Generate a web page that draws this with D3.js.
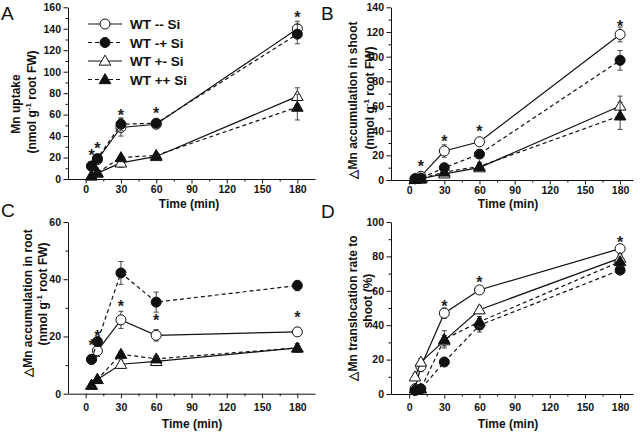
<!DOCTYPE html>
<html><head><meta charset="utf-8">
<script src="https://cdn.jsdelivr.net/npm/d3@7"></script>
<style>
body{margin:0;background:#fff}
text{font-family:"Liberation Sans",Arial,Helvetica,sans-serif}
</style>
</head><body>
<svg id="chart" width="640" height="432"></svg>
<script>
// ---------- DATA ----------
const times = [5, 10, 30, 60, 180];
const seriesNames = ["WT -- Si", "WT -+ Si", "WT +- Si", "WT ++ Si"];
const xTicks = [0, 30, 60, 90, 120, 150, 180];

// Panel A: Mn uptake (nmol g-1 root FW)
const uptakeMean = [[12, 18, 48, 51, 140], [12, 19, 51, 52, 135], [3, 5.5, 15, 21, 77], [3, 6, 20, 22, 67]];
const uptakeErr  = [[2, 2, 8, 2, 7], [2, 2, 6, 3, 9], [1, 1, 4, 2, 8], [1, 1, 2, 2, 12]];
const uptakeStarT = [5, 10, 30, 60, 180];
const uptakeStarY = [25, 31.5, 62, 64, 153.5];
const uptakeTicks = [0, 20, 40, 60, 80, 100, 120, 140, 160];

// Panel B: delta Mn accumulation in shoot
const shootMean = [[1, 3, 23.5, 31, 118], [1, 1.5, 10, 21, 97], [0.5, 1, 5, 10, 60], [0.5, 1, 6.5, 11, 52]];
const shootErr  = [[1, 1, 5, 2, 6], [0.5, 0.5, 2, 1.5, 8], [0.5, 0.5, 2, 1.5, 8], [0.5, 0.5, 1.5, 3, 11]];
const shootStarT = [10, 30, 60, 180];
const shootStarY = [13.5, 34, 42, 127.5];
const shootTicks = [0, 20, 40, 60, 80, 100, 120, 140];

// Panel C: delta Mn accumulation in root
const rootMean = [[12, 15, 25.8, 20.4, 21.6], [12, 18.2, 42.2, 32, 37.8], [3, 5, 10.3, 11.3, 16], [3, 5, 13.8, 12.2, 16]];
const rootErr  = [[1, 2, 3, 2, 1.5], [1, 1.5, 4, 3.5, 1.8], [0.5, 0.8, 1.5, 1.5, 1.5], [0.5, 0.8, 1, 1, 1]];
const rootStarT = [5, 10, 30, 60, 180];
const rootStarY = [18, 21.3, 31.8, 26.8, 27.7];
const rootTicks = [0, 20, 40, 60];

// Panel D: delta Mn translocation rate to shoot (%)
const transMean = [[3, 16, 47, 60.5, 84.5], [2, 3, 18.6, 40, 72], [10, 18.6, 31, 49, 79], [3, 3, 31.8, 42, 77]];
const transErr  = [[2, 3, 3, 1.5, 2], [1, 1, 1.5, 4, 2], [2, 2, 3, 2, 2], [2, 1.5, 5, 3, 2.5]];
const transStarT = [30, 60, 180];
const transStarY = [53, 66.7, 90.3];
const transTicks = [0, 20, 40, 60, 80, 100];

// ---------- LAYOUT / STYLE ----------
const panels = [
  {letter: "A", lx: 1, ly: 20, xd: [-15, 195], xr: [68, 315], yd: [0, 160], yr: [179, 7.3],
   mean: uptakeMean, err: uptakeErr, st: uptakeStarT, sy: uptakeStarY, ticks: uptakeTicks, minorStep: 10,
   pad: 2, titleY: 207.5, titleX: 189,
   ylab: [{t: "Mn uptake", x: 20, y: 104}, {t: "(nmol g|-1| root FW)", x: 36, y: 102}]},
  {letter: "B", lx: 321, ly: 20, xd: [-15.5, 191], xr: [391, 633], yd: [0, 140], yr: [180, 7.3],
   mean: shootMean, err: shootErr, st: shootStarT, sy: shootStarY, ticks: shootTicks, minorStep: 10,
   pad: 2, titleY: 208, titleX: 508,
   ylab: [{t: "\u25B3Mn accumulation in shoot", x: 357, y: 100}, {t: "(nmol g|-1| root FW)", x: 374, y: 98}]},
  {letter: "C", lx: 1, ly: 217, xd: [-15, 195], xr: [68, 315], yd: [0, 60], yr: [393.7, 222],
   mean: rootMean, err: rootErr, st: rootStarT, sy: rootStarY, ticks: rootTicks, minorStep: 10,
   pad: 5, titleY: 428, titleX: 192,
   ylab: [{t: "\u25B3Mn accumulation in root", x: 32, y: 303}, {t: "(nmol g|-1| root FW)", x: 47, y: 294}]},
  {letter: "D", lx: 321, ly: 218, xd: [-15.5, 191], xr: [391, 633], yd: [0, 100], yr: [394, 222],
   mean: transMean, err: transErr, st: transStarT, sy: transStarY, ticks: transTicks, minorStep: 10,
   pad: 5, titleY: 428, titleX: 508,
   ylab: [{t: "\u25B3Mn translocation rate to", x: 357, y: 308}, {t: "shoot  (%)", x: 372, y: 301}]}
];
const filled = [false, true, false, true];
const isTri = [false, false, true, true];
const dashed = [false, true, false, true];
const ink = "#111";

const svg = d3.select("#chart");

function drawMarker(g, i, cx, cy) {
  if (isTri[i]) {
    g.append("path").attr("d", d3.symbol(d3.symbolTriangle, 58)())
      .attr("transform", `translate(${cx},${cy + 0.8})`)
      .attr("fill", filled[i] ? ink : "#fff").attr("stroke", ink).attr("stroke-width", 1);
  } else {
    g.append("circle").attr("cx", cx).attr("cy", cy).attr("r", 5)
      .attr("fill", filled[i] ? ink : "#fff").attr("stroke", ink).attr("stroke-width", 1);
  }
}

function labelWithSup(sel, str) {
  const parts = str.split("|");
  sel.append("tspan").text(parts[0]);
  if (parts.length > 1) {
    sel.append("tspan").text(parts[1]).attr("font-size", 8).attr("dy", -5);
    sel.append("tspan").text(parts[2]).attr("dy", 5);
  }
}

panels.forEach(p => {
  const x = d3.scaleLinear().domain(p.xd).range(p.xr);
  const y = d3.scaleLinear().domain(p.yd).range(p.yr);
  const g = svg.append("g");
  const y0 = y(0), xL = p.xr[0];

  // minor ticks
  const xMinor = d3.range(15, 181, 30);
  const yMinor = d3.range(p.minorStep, p.yd[1], p.minorStep * 2);
  g.append("g").attr("transform", `translate(0,${y0})`)
    .call(d3.axisBottom(x).tickValues(xMinor).tickSize(2.5).tickFormat(""))
    .call(a => a.select(".domain").remove());
  g.append("g").attr("transform", `translate(${xL},0)`)
    .call(d3.axisLeft(y).tickValues(yMinor).tickSize(2.5).tickFormat(""))
    .call(a => a.select(".domain").remove());

  // major axes
  const xa = g.append("g").attr("transform", `translate(0,${y0})`)
    .call(d3.axisBottom(x).tickValues(xTicks).tickSize(4.5).tickSizeOuter(0).tickPadding(p.pad));
  const ya = g.append("g").attr("transform", `translate(${xL},0)`)
    .call(d3.axisLeft(y).tickValues(p.ticks).tickSize(4.5).tickSizeOuter(0).tickPadding(2.5));
  g.selectAll(".tick line, .domain").attr("stroke", ink).attr("stroke-width", 1);
  [xa, ya].forEach(a => a.selectAll("text")
    .attr("font-size", 10.5).attr("font-weight", "bold").attr("fill", ink)
    .attr("font-family", '"Liberation Sans",Arial,sans-serif'));

  // titles
  g.append("text").attr("x", p.titleX).attr("y", p.titleY).attr("text-anchor", "middle")
    .attr("font-size", 12).attr("font-weight", "bold").attr("fill", ink).text("Time (min)");
  p.ylab.forEach(l => {
    const t = g.append("text").attr("transform", `translate(${l.x},${l.y}) rotate(-90)`)
      .attr("text-anchor", "middle").attr("font-size", 12).attr("font-weight", "bold").attr("fill", ink);
    labelWithSup(t, l.t);
  });
  svg.append("text").attr("x", p.lx).attr("y", p.ly).attr("font-size", 19).attr("fill", ink).text(p.letter);

  // series
  const line = d3.line().x(d => x(d[0])).y(d => y(d[1]));
  p.mean.forEach((vals, i) => {
    const pts = times.map((t, k) => [t, vals[k], p.err[i][k]]);
    g.append("path").attr("d", line(pts)).attr("fill", "none").attr("stroke", ink)
      .attr("stroke-width", 1.2).attr("stroke-dasharray", dashed[i] ? "4,3" : null);
    pts.forEach(d => {
      const cx = x(d[0]), top = y(d[1] + d[2]), bot = y(Math.max(0, d[1] - d[2]));
      g.append("line").attr("x1", cx).attr("x2", cx).attr("y1", top).attr("y2", bot).attr("stroke", "#444");
      [top, bot].forEach(yy => g.append("line").attr("x1", cx - 2.5).attr("x2", cx + 2.5)
        .attr("y1", yy).attr("y2", yy).attr("stroke", "#444"));
    });
    pts.forEach(d => drawMarker(g, i, x(d[0]), y(d[1])));
  });

  // significance stars
  p.st.forEach((t, k) => {
    g.append("text").attr("x", x(t)).attr("y", y(p.sy[k]) + 9).attr("text-anchor", "middle")
      .attr("font-size", 16).attr("font-weight", "bold").attr("fill", "#222").text("*");
  });
});

// legend (panel A)
const leg = svg.append("g");
const legRows = [24, 42.5, 61, 79.5];
seriesNames.forEach((name, i) => {
  const yy = legRows[i];
  leg.append("line").attr("x1", 88).attr("x2", 122).attr("y1", yy).attr("y2", yy)
    .attr("stroke", ink).attr("stroke-width", 1.2).attr("stroke-dasharray", dashed[i] ? "4,3" : null);
  drawMarker(leg, i, 105, yy);
  leg.append("text").attr("x", 130).attr("y", yy + 5).attr("font-size", 13.5)
    .attr("font-weight", "bold").attr("fill", ink).text(name);
});
</script>
</body></html>
